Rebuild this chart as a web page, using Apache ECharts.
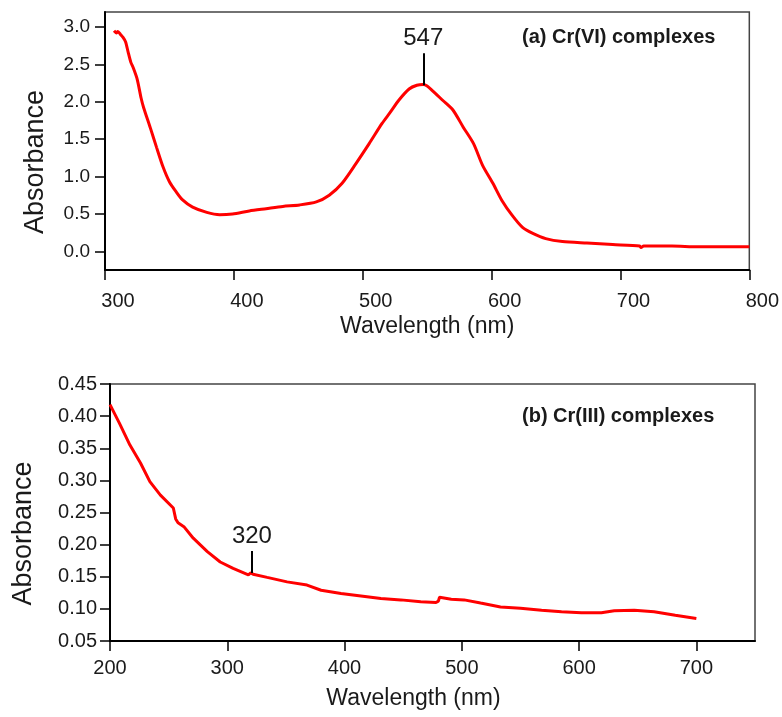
<!DOCTYPE html>
<html>
<head>
<meta charset="utf-8">
<script src="https://cdn.jsdelivr.net/npm/echarts@6/dist/echarts.min.js"></script>
<style>html,body{margin:0;padding:0;background:#fff;}#chart{width:782px;height:717px;}</style>
</head>
<body>
<div id="chart"></div>
<script>
// ---- Data ----
const wavelengthA = [307,309,310,312,314,316,318,320,322,325,328,330,335,340,345,350,355,360,368,379,389,399,412,425,438,451,464,474,484,495,505,515,521,528,536,542,547,550,554,562,570,578,586,593,601,608,616,624,632,642,655,674,694,715,716,718,740,760,800];
const absorbanceA = [2.95,2.92,2.94,2.90,2.86,2.80,2.66,2.53,2.45,2.30,2.05,1.92,1.66,1.39,1.13,0.93,0.80,0.69,0.59,0.52,0.49,0.50,0.54,0.57,0.60,0.62,0.66,0.75,0.91,1.18,1.44,1.71,1.85,2.02,2.17,2.22,2.23,2.21,2.15,2.02,1.89,1.66,1.44,1.15,0.91,0.68,0.48,0.32,0.24,0.17,0.13,0.11,0.09,0.07,0.05,0.07,0.07,0.06,0.06];

const wavelengthB = [200,201,208,217,226,234,243,254,255,256,258,263,271,283,294,305,318,320,322,334,351,368,380,397,414,431,448,465,478,480,481,491,502,516,533,550,568,585,602,619,630,647,664,682,700];
const absorbanceB = [0.418,0.417,0.389,0.355,0.327,0.298,0.277,0.257,0.254,0.240,0.234,0.228,0.210,0.189,0.173,0.163,0.153,0.156,0.154,0.149,0.142,0.137,0.129,0.124,0.120,0.116,0.114,0.111,0.110,0.112,0.118,0.115,0.114,0.109,0.103,0.101,0.098,0.0956,0.094,0.094,0.097,0.098,0.0956,0.090,0.085];

const xTicksA = [300,400,500,600,700,800];
const yTicksA = [0,0.5,1.0,1.5,2.0,2.5,3.0];
const xTicksB = [200,300,400,500,600,700];
const yTicksB = [0.05,0.10,0.15,0.20,0.25,0.30,0.35,0.40,0.45];

const peakA = {x: 547, yLow: 2.22, yHigh: 2.65, label: '547'};
const peakB = {x: 321, yLow: 0.156, yHigh: 0.190, label: '320'};

const titleA = '(a) Cr(VI) complexes';
const titleB = '(b) Cr(III) complexes';

// ---- Build ----
const SANS = '"Liberation Sans", Arial, sans-serif';
const TXT = '#1a1a1a';

function pairs(xs, ys){ return xs.map((x,i)=>[x, ys[i]]); }

function xAxis(idx, min, max, ticks, labelPad, margin, namePad, nameGap){
  return {
    type:'value', gridIndex: idx, min:min, max:max, interval:100,
    name:'Wavelength (nm)', nameLocation:'middle', nameGap:nameGap,
    nameTextStyle:{fontFamily:SANS, fontSize:23, color:TXT, padding:namePad},
    axisLine:{show:true, onZero:false, lineStyle:{color:'#000', width:2}},
    axisTick:{show:true, length:10, lineStyle:{color:'#000', width:1.5}, customValues: ticks},
    axisLabel:{show:true, customValues: ticks, fontFamily:SANS, fontSize:20, color:TXT, margin:margin, padding:labelPad},
    splitLine:{show:false}
  };
}
function yAxis(idx, min, max, ticks, digits, fs, margin, nameGap){
  return {
    type:'value', gridIndex: idx, min:min, max:max,
    name:'Absorbance', nameLocation:'middle', nameGap:nameGap, nameRotate:90,
    nameTextStyle:{fontFamily:SANS, fontSize:27, color:TXT, padding:[0,42,0,0]},
    axisLine:{show:true, onZero:false, lineStyle:{color:'#000', width:2}},
    axisTick:{show:true, length:10, lineStyle:{color:'#000', width:1.5}, customValues: ticks},
    axisLabel:{show:true, customValues: ticks, fontFamily:SANS, fontSize:fs, color:TXT, margin:margin,
      formatter: v => Number(v).toFixed(digits)},
    splitLine:{show:false}
  };
}
function marker(p){
  return {
    silent:true, symbol:['none','none'],
    lineStyle:{color:'#000', width:2, type:'solid'},
    label:{show:true, position:'end', formatter:p.label, fontFamily:SANS, fontSize:24, color:TXT, distance:3},
    data:[[{coord:[p.x, p.yLow]}, {coord:[p.x, p.yHigh]}]]
  };
}

const option = {
  animation:false,
  backgroundColor:'#fff',
  title:[
    {text:titleA, left:517, top:22, textStyle:{fontFamily:SANS, fontWeight:'bold', fontSize:20, color:TXT}},
    {text:titleB, left:517, top:401, textStyle:{fontFamily:SANS, fontWeight:'bold', fontSize:20, color:TXT}}
  ],
  grid:[
    {left:105, top:12, width:645, height:258, show:true, borderColor:'#444', borderWidth:1.5, backgroundColor:'transparent'},
    {left:110, top:384, width:645, height:257, show:true, borderColor:'#444', borderWidth:1.5, backgroundColor:'transparent'}
  ],
  xAxis:[
    xAxis(0, 300, 800, xTicksA, [0,0,0,26], 21, [0,0,0,0], 45),
    xAxis(1, 200, 750, xTicksB, [0,0,0,0], 17, [0,38,0,0], 46)
  ],
  yAxis:[
    yAxis(0, -0.25, 3.2, yTicksA, 1, 19, 15, 56),
    yAxis(1, 0.05, 0.45, yTicksB, 2, 20, 13, 73)
  ],
  series:[
    {type:'line', xAxisIndex:0, yAxisIndex:0, data:pairs(wavelengthA, absorbanceA), showSymbol:false, smooth:0.25,
      lineStyle:{color:'#ff0000', width:3}, markLine: marker(peakA)},
    {type:'line', xAxisIndex:1, yAxisIndex:1, data:pairs(wavelengthB, absorbanceB), showSymbol:false, smooth:false,
      lineStyle:{color:'#ff0000', width:3}, markLine: marker(peakB)}
  ]
};
const chart = echarts.init(document.getElementById('chart'), null, {renderer:'canvas'});
chart.setOption(option);
</script>
</body>
</html>
